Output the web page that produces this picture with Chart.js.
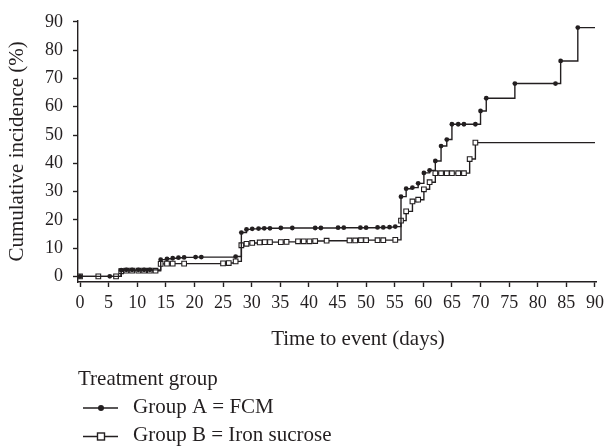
<!DOCTYPE html>
<html>
<head>
<meta charset="utf-8">
<title>Cumulative incidence</title>
<script src="https://cdn.jsdelivr.net/npm/chart.js@4.4.0/dist/chart.umd.min.js"></script>
<style>
    html, body { margin: 0; padding: 0; background: #fff; }
</style>
</head>
<body>
<canvas id="myChart" width="609" height="446"></canvas>
<script>
// days and cumulative incidence (%)
var timeA = [0, 5.2, 7.2, 8.1, 9.1, 10.2, 11.2, 12.2, 14.1, 15.2, 16.2, 17.2, 18.2, 20.2, 21.2, 27.2,
    28.2, 29.1, 30.1, 31.2, 32.2, 33.2, 35.1, 37.1, 41.1, 42.1, 45.1, 46.1, 49, 50, 52, 53,
    54.1, 55.1, 56.1, 57, 58.1, 59.1, 60.1, 61.1, 62.1, 63.1, 64.1, 65, 66.1, 67.1, 69.1, 70,
    71, 76, 83.1, 84, 87, 90];
var cumA = [0, 0, 2.2, 2.3, 2.3, 2.3, 2.3, 2.3, 5.9, 6.2, 6.4, 6.6, 6.7, 6.8, 6.8, 7.0,
    15.5, 16.6, 16.8, 16.9, 17.0, 17.0, 17.1, 17.1, 17.1, 17.1, 17.2, 17.2, 17.2, 17.2, 17.3, 17.3,
    17.4, 17.6, 28.2, 31.0, 31.4, 32.9, 36.6, 37.5, 40.8, 46.1, 48.4, 53.8, 53.8, 53.8, 53.8, 58.5,
    63.0, 68.2, 68.2, 76.2, 88.0, 88.0];

var timeB = [0, 3.2, 6.3, 7.2, 8.1, 9.1, 10.2, 11.2, 12.2, 13.2, 14.1, 15.2, 16.2, 18.2, 25, 26,
    27.2, 28.2, 29.1, 30.1, 31.4, 32.3, 33.2, 35.1, 36.1, 38.1, 39.1, 40.1, 41.1, 43.1, 47.1, 48.1,
    49.1, 50, 52, 53, 55.1, 56.1, 57, 58.1, 59.1, 60.1, 61.1, 62.1, 63.1, 64.1, 65, 66.1,
    67.1, 68.1, 69.1, 90];
var cumB = [0, 0, 0, 1.8, 2.0, 2.0, 2.0, 2.0, 2.0, 2.0, 4.4, 4.5, 4.5, 4.5, 4.6, 4.7,
    5.3, 11.0, 11.5, 11.8, 12.0, 12.1, 12.1, 12.1, 12.2, 12.4, 12.4, 12.4, 12.5, 12.6, 12.7, 12.7,
    12.8, 12.8, 12.8, 12.8, 12.9, 19.7, 23.0, 26.5, 27.1, 30.8, 33.3, 36.5, 36.5, 36.5, 36.5, 36.5,
    36.5, 41.5, 47.3, 47.3];

var xTicks = [0, 5, 10, 15, 20, 25, 30, 35, 40, 45, 50, 55, 60, 65, 70, 75, 80, 85, 90];
var yTicks = [0, 5, 10, 15, 20, 25, 30, 35, 40, 45, 50, 55, 60, 65, 70, 75, 80, 85, 90];

var labelA = 'Group A = FCM';
var labelB = 'Group B = Iron sucrose';

var ink = '#231f20';
var serif = '"Liberation Serif", "Times New Roman", serif';

function toPoints(times, values) {
    var pts = [];
    times.forEach(function(t, i) { pts.push({x: t, y: values[i]}); });
    return pts;
}

// no marker on the closing point at day 90
function noLastMarker(size, count) {
    return function(ctx) { return ctx.dataIndex === count - 1 ? 0 : size; };
}

// x title and legend underneath the plot
var bottomText = {
    id: 'bottomText',
    afterDraw: function(chart) {
        var ctx = chart.ctx;
        ctx.save();
        ctx.fillStyle = ink;
        ctx.font = '21px ' + serif;
        ctx.textBaseline = 'alphabetic';
        ctx.textAlign = 'center';
        ctx.fillText('Time to event (days)', 358, 345);

        ctx.textAlign = 'left';
        ctx.fillText('Treatment group', 78, 385);
        ctx.fillText(labelA, 133, 413);
        ctx.fillText(labelB, 133, 441);

        ctx.strokeStyle = ink;
        ctx.lineWidth = 1.4;
        ctx.beginPath();
        ctx.moveTo(83, 408); ctx.lineTo(118, 408);
        ctx.moveTo(83, 436.5); ctx.lineTo(118, 436.5);
        ctx.stroke();

        ctx.beginPath();
        ctx.arc(101, 408, 3, 0, Math.PI * 2);
        ctx.fill();

        ctx.fillStyle = '#fff';
        ctx.fillRect(97.5, 433, 7, 7);
        ctx.strokeRect(97.5, 433, 7, 7);
        ctx.restore();
    }
};

new Chart(document.getElementById('myChart'), {
    type: 'line',
    data: {
        datasets: [{
            label: labelA,
            data: toPoints(timeA, cumA),
            stepped: 'before',
            borderColor: ink,
            borderWidth: 1.4,
            pointStyle: 'circle',
            pointRadius: noLastMarker(2.4, timeA.length),
            pointBackgroundColor: ink,
            pointBorderColor: ink,
            pointBorderWidth: 0,
            fill: false
        }, {
            label: labelB,
            data: toPoints(timeB, cumB),
            stepped: 'before',
            borderColor: ink,
            borderWidth: 1.4,
            pointStyle: 'rect',
            pointRadius: noLastMarker(3.3, timeB.length),
            pointBackgroundColor: '#fff',
            pointBorderColor: ink,
            pointBorderWidth: 1.1,
            fill: false
        }]
    },
    options: {
        responsive: false,
        animation: false,
        devicePixelRatio: 1,
        layout: { padding: { left: 0, right: 12, top: 13, bottom: 94 } },
        plugins: {
            legend: { display: false },
            tooltip: { enabled: false }
        },
        scales: {
            x: {
                type: 'linear',
                min: -0.35,
                max: 90.2,
                afterBuildTicks: function(s) { s.ticks = xTicks.map(function(v) { return {value: v}; }); },
                afterFit: function(s) { s.height = 70; },
                border: { display: true, color: ink, width: 1.4 },
                grid: { drawOnChartArea: false, drawTicks: true, tickLength: 5, tickColor: ink, tickWidth: 1.4 },
                ticks: {
                    autoSkip: false,
                    maxRotation: 0,
                    padding: 5,
                    color: ink,
                    font: { family: serif, size: 18 }
                }
            },
            y: {
                min: -2,
                max: 90.4,
                afterBuildTicks: function(s) { s.ticks = yTicks.map(function(v) { return {value: v}; }); },
                afterFit: function(s) { s.width = 78; },
                border: { display: true, color: ink, width: 1.4 },
                grid: { drawOnChartArea: false, drawTicks: true, tickLength: 5, tickColor: ink, tickWidth: 1.4 },
                ticks: {
                    padding: 10,
                    color: ink,
                    font: { family: serif, size: 18 },
                    callback: function(v) { return v % 10 === 0 ? v : ''; }
                },
                title: {
                    display: true,
                    text: 'Cumulative incidence (%)',
                    color: ink,
                    font: { family: serif, size: 21 },
                    padding: { top: 5, bottom: 0 }
                }
            }
        }
    },
    plugins: [bottomText]
});
</script>
</body>
</html>
